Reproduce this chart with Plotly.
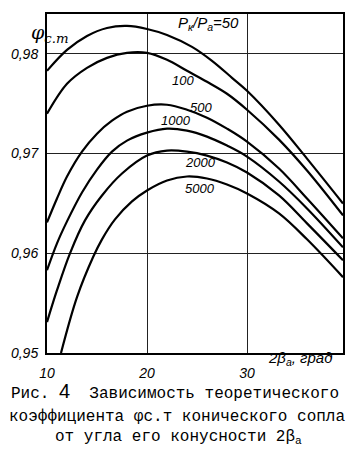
import plotly.graph_objects as go

# ---- data ----
ratios = ["50", "100", "500", "1000", "2000", "5000"]

x_50 = [10, 12, 14, 16, 18, 20, 22, 24.5, 26.5, 28.5, 30, 33.2, 36, 39.6]
y_50 = [0.9783, 0.9804, 0.9818, 0.9826, 0.9828, 0.9825, 0.9819, 0.9807, 0.9793, 0.9776, 0.9763, 0.9729, 0.9695, 0.9650]

x_100 = [10, 12, 14, 16, 18, 20, 22, 24, 26, 28, 30, 33.2, 36, 39.6]
y_100 = [0.9740, 0.9770, 0.9786, 0.9796, 0.9801, 0.9801, 0.9794, 0.9783, 0.9772, 0.9760, 0.9744, 0.9714, 0.9683, 0.9638]

x_500 = [10, 11, 12, 13.5, 15, 16.5, 18, 20, 22, 24, 26, 28, 30, 33.2, 36, 39.6]
y_500 = [0.9631, 0.9655, 0.9677, 0.9702, 0.9720, 0.9733, 0.9742, 0.9748, 0.9749, 0.9744, 0.9736, 0.9725, 0.9712, 0.9685, 0.9655, 0.9615]

x_1000 = [10, 11, 12, 13.5, 15, 16.5, 18, 20, 22, 24, 26, 28, 30, 33.2, 36, 39.6]
y_1000 = [0.9583, 0.9610, 0.9632, 0.9661, 0.9684, 0.9702, 0.9713, 0.9721, 0.9725, 0.9723, 0.9717, 0.9708, 0.9697, 0.9672, 0.9645, 0.9606]

x_2000 = [10, 11, 12.3, 13.8, 15.5, 17.5, 20, 22, 24, 26, 28, 30, 33.2, 36, 39.6]
y_2000 = [0.9531, 0.9563, 0.9600, 0.9633, 0.9658, 0.9680, 0.9698, 0.9703, 0.9702, 0.9698, 0.9691, 0.9681, 0.9658, 0.9630, 0.9593]

x_5000 = [11.4, 13, 14.6, 15.5, 16.8, 18.5, 20, 22, 24, 26, 28, 30, 33.2, 36, 39.6]
y_5000 = [0.9500, 0.9556, 0.9596, 0.9614, 0.9634, 0.9652, 0.9663, 0.9673, 0.9677, 0.9675, 0.9669, 0.9660, 0.9640, 0.9614, 0.9576]

xs = [x_50, x_100, x_500, x_1000, x_2000, x_5000]
ys = [y_50, y_100, y_500, y_1000, y_2000, y_5000]

# curve label positions (data coords)
label_text = ["<i>P<sub>к</sub>/P<sub>a</sub>=50</i>", "<i>100</i>", "<i>500</i>", "<i>1000</i>", "<i>2000</i>", "<i>5000</i>"]
label_size = [15, 13, 13, 13, 13, 13]
label_x = [26.1, 23.6, 25.4, 22.9, 25.3, 25.3]
label_y = [0.9830, 0.9773, 0.9746, 0.9733, 0.9691, 0.9665]

x_ticks = [10, 20, 30]
x_ticktext = ["10", "20", "30"]
y_ticks = [0.95, 0.96, 0.97, 0.98]
y_ticktext = ["0,95", "0,96", "0,97", "0,98"]

fig = go.Figure()
for xv, yv, name in zip(xs, ys, ratios):
    fig.add_trace(go.Scatter(
        x=xv, y=yv, mode="lines", name=name,
        line=dict(color="black", width=2.2, shape="spline", smoothing=1.0),
        showlegend=False, hoverinfo="skip"))

for t, lx, ly, ls in zip(label_text, label_x, label_y, label_size):
    fig.add_annotation(x=lx, y=ly, xref="x", yref="y", text=t, showarrow=False,
                       font=dict(family="Liberation Sans", size=ls, color="black"))

tick_font = dict(family="Liberation Sans", size=14, color="black", style="italic")

fig.update_xaxes(range=[10, 39.6], tickvals=x_ticks, ticktext=x_ticktext,
                 showgrid=True, gridcolor="#222", gridwidth=1,
                 showline=True, linewidth=2, linecolor="black", mirror=True,
                 zeroline=False, ticks="", tickfont=tick_font, ticklabelstandoff=6)
fig.update_yaxes(range=[0.95, 0.984], tickvals=y_ticks, ticktext=y_ticktext,
                 showgrid=True, gridcolor="#222", gridwidth=1,
                 showline=True, linewidth=2, linecolor="black", mirror=True,
                 zeroline=False, ticks="", tickfont=tick_font, ticklabelstandoff=4)

# y-axis title
fig.add_annotation(x=-0.06, y=0.985, xref="paper", yref="paper",
                   text="<i>φ<sub>с.т</sub></i>", showarrow=False,
                   font=dict(family="DejaVu Serif", size=19, color="black"))
# x-axis title
fig.add_annotation(x=35.3, y=-0.05, xref="x", yref="paper",
                   text="2<i>β<sub>a</sub>, град</i>", showarrow=False,
                   font=dict(family="Liberation Sans", size=15, color="black", style="italic"))

cap_font = dict(family="Liberation Mono", size=16, color="black")
fig.add_annotation(x=-0.13, y=-0.153, xref="paper", yref="paper", xanchor="left",
                   text="Рис. <span style='font-family:Liberation Sans;font-size:20px'>4</span>  Зависимость теоретического",
                   showarrow=False, font=cap_font)
fig.add_annotation(x=0.44, y=-0.221, xref="paper", yref="paper", xanchor="center",
                   text="коэффициента φс.т конического сопла",
                   showarrow=False, font=cap_font)
fig.add_annotation(x=0.445, y=-0.283, xref="paper", yref="paper", xanchor="center",
                   text="от угла его конусности 2β<sub>a</sub>",
                   showarrow=False, font=cap_font)

fig.update_layout(width=354, height=461,
                  margin=dict(l=47, r=9, t=14, b=108),
                  paper_bgcolor="white", plot_bgcolor="white")

fig.write_html("out.html")
